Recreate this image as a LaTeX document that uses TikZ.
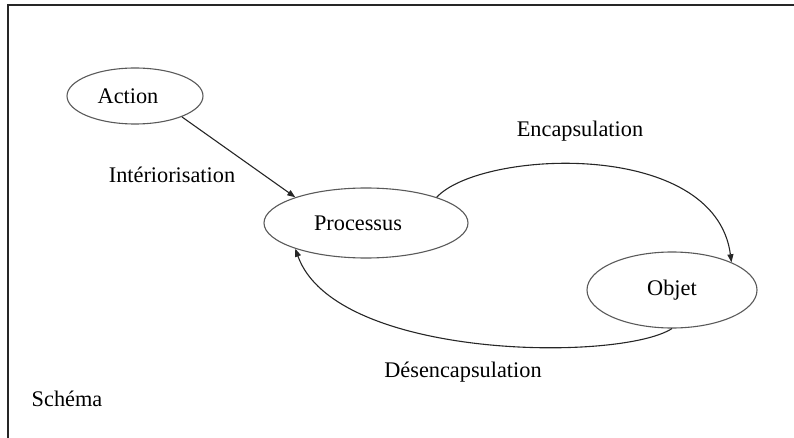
\documentclass[tikz,border=0pt]{standalone}
\usepackage{fontspec}
\setmainfont{Liberation Serif}
\usetikzlibrary{arrows.meta,shapes.geometric}
\begin{document}
\begin{tikzpicture}[x=1pt,y=-1pt,
  state/.style={ellipse, draw=black!65, line width=1.1pt, inner sep=0pt,
    font=\fontsize{22.3}{26}\selectfont},
  lbl/.style={inner sep=0pt, font=\fontsize{22.3}{26}\selectfont},
  link/.style={draw=black!85, line width=1.1pt, -{Triangle[length=8pt,width=6pt]}}]
\useasboundingbox (0,0) rectangle (794,438);
% frame (top and left edges)
\draw[line width=1.4pt, black!85] (8,438) -- (8,5) -- (794,5);

% stages
\node[state, minimum width=136pt, minimum height=56pt] (act) at (135,96) {\hspace*{-14pt}Action};
\node[state, minimum width=204pt, minimum height=70pt] (proc) at (366,223) {\hspace*{-16pt}Processus};
\node[state, minimum width=170pt, minimum height=76pt] (obj) at (672,290) {Objet};

% labels
\node[lbl] (lint) at (172,175) {Intériorisation};
\node[lbl] (lenc) at (580,131) {Encapsulation};
\node[lbl] (ldes) at (463,372) {Désencapsulation};
\node[lbl] (lsch) at (67,399) {Schéma};

% transitions
\draw[link] (act.-24) -- (proc.160);
\draw[link] (proc.20) .. controls (480,150) and (715,138) .. (obj.25);
\draw[link] (obj.south) .. controls (620,362) and (335,360) .. (proc.200);
\end{tikzpicture}
\end{document}
